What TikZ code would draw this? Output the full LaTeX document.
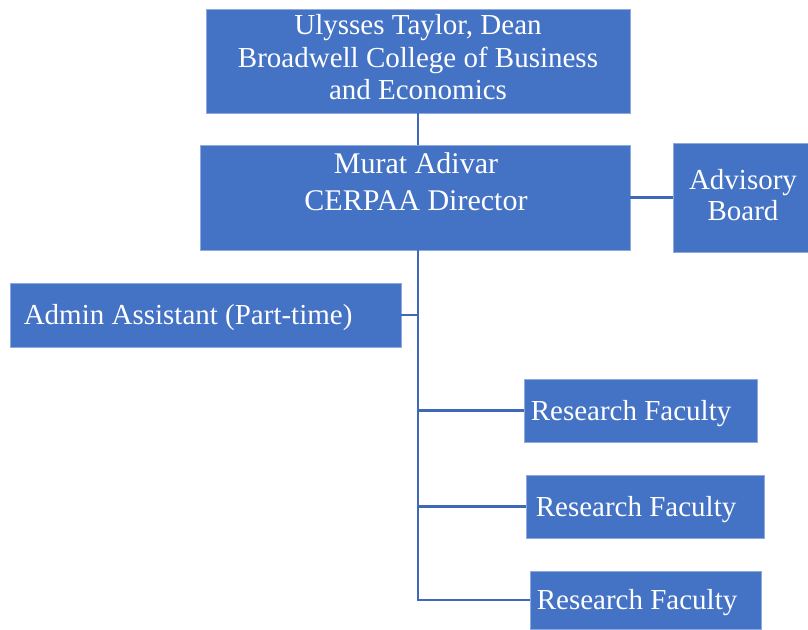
\documentclass[tikz,border=0pt]{standalone}
\usepackage{fontspec}
\setmainfont{Liberation Serif}
\definecolor{boxblue}{HTML}{4472C4}
\definecolor{lineblue}{HTML}{4068B8}
\tikzset{
  unit/.style={fill=boxblue, draw=boxblue!60!white, line width=0.8pt, inner sep=0pt},
  lbl/.style={text=white, font=\fontsize{29}{32.5}\selectfont, align=center, inner sep=0pt},
  link/.style={lineblue, line width=2.6pt}
}
\begin{document}
\begin{tikzpicture}[x=1pt, y=-1pt]
\useasboundingbox (0,0) rectangle (808,629);

% boxes
\node[unit, minimum width=424, minimum height=104] (dean) at (418,61) {};
\node[unit, minimum width=430, minimum height=105] (director) at (415,197.5) {};
\node[unit, minimum width=135, minimum height=109] (board) at (740.5,197.5) {};
\node[unit, minimum width=391, minimum height=64] (admin) at (205.5,315) {};
\node[unit, minimum width=233, minimum height=63] (fac1) at (640.5,410.5) {};
\node[unit, minimum width=238, minimum height=63] (fac2) at (645,506.5) {};
\node[unit, minimum width=231, minimum height=58] (fac3) at (645.5,600) {};

% texts
\node[lbl] (deantxt) at (418,57.5) {Ulysses Taylor, Dean\\Broadwell College of Business\\and Economics};
\node[lbl, font=\fontsize{30}{37}\selectfont] (dirtxt) at (416,181.5) {Murat Adivar\\CERPAA Director};
\node[lbl, font=\fontsize{29}{30.5}\selectfont] (boardtxt) at (743,195) {Advisory\\Board};
\node[lbl, anchor=west] (admintxt) at ([xshift=14, yshift=-3]admin.west) {Admin Assistant (Part-time)};
\node[lbl, anchor=west] (fac1txt) at ([xshift=7, yshift=-3]fac1.west) {Research Faculty};
\node[lbl, anchor=west] (fac2txt) at ([xshift=10, yshift=-3]fac2.west) {Research Faculty};
\node[lbl, anchor=west] (fac3txt) at ([xshift=7, yshift=-3]fac3.west) {Research Faculty};

% connectors
\coordinate (trunk) at (418,250);
\draw[link] (dean.south) -- (dean.south |- director.north);
\draw[link] (director.east |- board.west) -- (board.west);
\draw[link] (trunk) -- (trunk |- fac3.west) -- (fac3.west);
\draw[link] (admin.east) -- (admin.east -| trunk);
\draw[link] (fac1.west -| trunk) -- (fac1.west);
\draw[link] (fac2.west -| trunk) -- (fac2.west);
\end{tikzpicture}
\end{document}
